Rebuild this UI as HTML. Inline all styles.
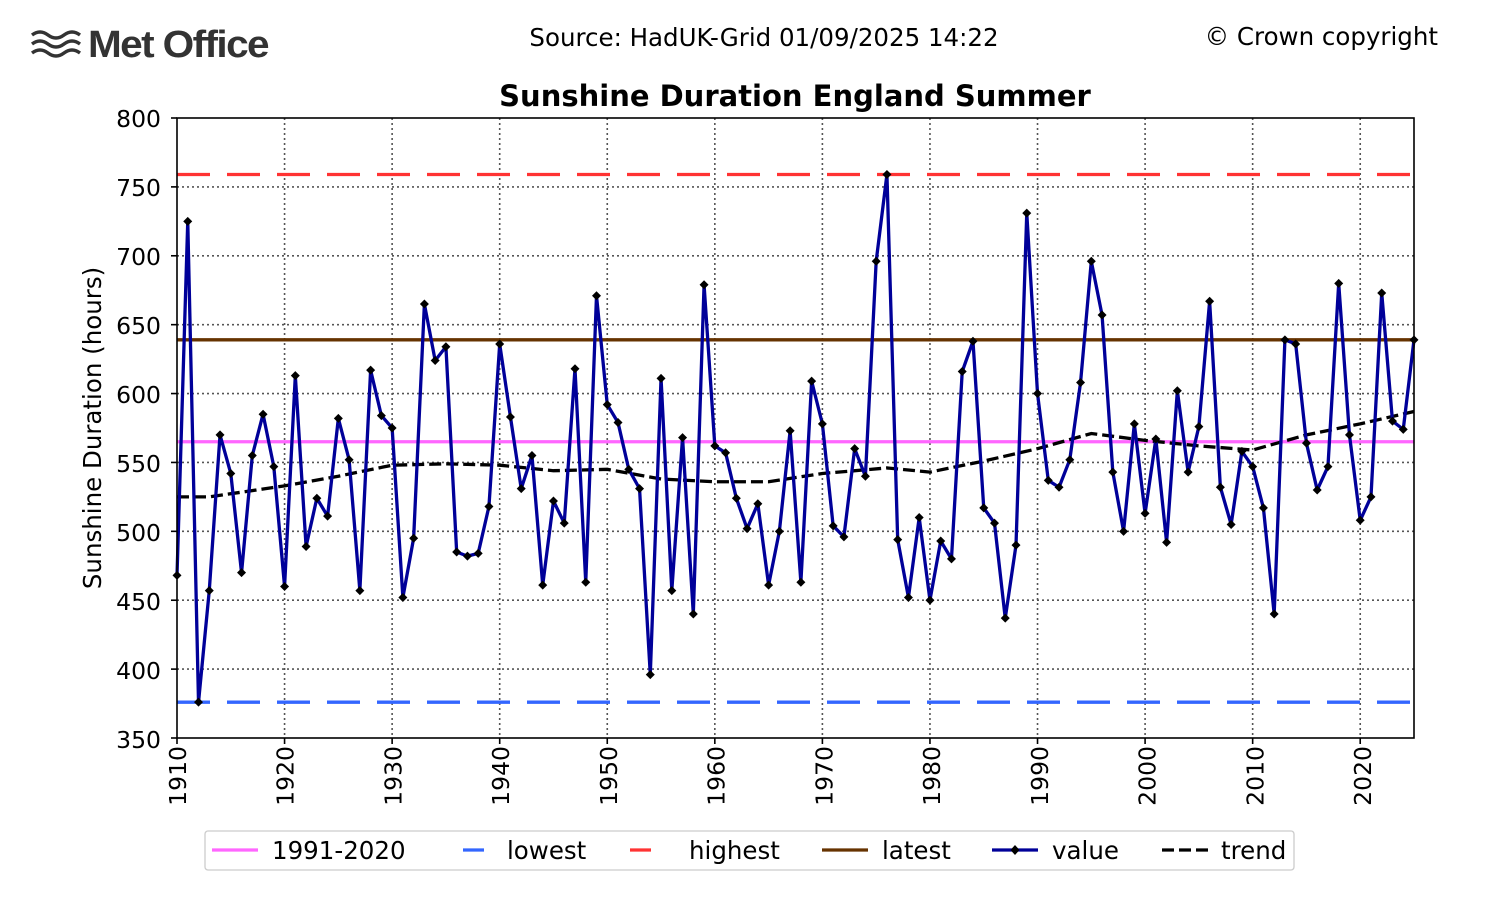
<!DOCTYPE html>
<html><head><meta charset="utf-8"><style>
html,body{margin:0;padding:0;background:#fff;}
svg{display:block;font-family:"DejaVu Sans","Liberation Sans",sans-serif;}
</style></head><body>
<svg id="s" width="1500" height="900" viewBox="0 0 1500 900" xmlns="http://www.w3.org/2000/svg">
<rect width="1500" height="900" fill="#fff"/>
<g stroke="#333" stroke-width="3.4" fill="none">
<path d="M32 35 q8 -6 16 0 t16 0 t16 0"/><path d="M32 44 q8 -6 16 0 t16 0 t16 0"/><path d="M32 53 q8 -6 16 0 t16 0 t16 0"/>
</g>
<text x="88" y="57" font-family="Liberation Sans,sans-serif" font-weight="bold" font-size="38" fill="#333" letter-spacing="-1.5" textLength="180" lengthAdjust="spacingAndGlyphs">Met Office</text>
<text x="764" y="46" font-size="24.5" text-anchor="middle">Source: HadUK-Grid 01/09/2025 14:22</text>
<text x="1438" y="45" font-size="24.5" text-anchor="end">© Crown copyright</text>
<text x="795" y="106" font-size="29" font-weight="bold" text-anchor="middle">Sunshine Duration England Summer</text>
<text transform="translate(101,428) rotate(-90)" font-size="24.5" text-anchor="middle">Sunshine Duration (hours)</text>
<g id="grid" stroke="#555" stroke-width="1.6" stroke-dasharray="2,3"></g>
<g id="ylab" font-size="23.5" text-anchor="end">
<text x="161" y="127">800</text><text x="161" y="196">750</text><text x="161" y="265">700</text><text x="161" y="334">650</text><text x="161" y="403">600</text><text x="161" y="472">550</text><text x="161" y="541">500</text><text x="161" y="610">450</text><text x="161" y="679">400</text><text x="161" y="748">350</text>
</g>
<g font-size="23.5" text-anchor="end">
<text transform="translate(186,746) rotate(-90)">1910</text>
<text transform="translate(293.7,746) rotate(-90)">1920</text>
<text transform="translate(401.5,746) rotate(-90)">1930</text>
<text transform="translate(509.2,746) rotate(-90)">1940</text>
<text transform="translate(617,746) rotate(-90)">1950</text>
<text transform="translate(724.7,746) rotate(-90)">1960</text>
<text transform="translate(832.4,746) rotate(-90)">1970</text>
<text transform="translate(940.2,746) rotate(-90)">1980</text>
<text transform="translate(1047.9,746) rotate(-90)">1990</text>
<text transform="translate(1155.7,746) rotate(-90)">2000</text>
<text transform="translate(1263.4,746) rotate(-90)">2010</text>
<text transform="translate(1371.1,746) rotate(-90)">2020</text>
</g>
<g id="data"></g>
<rect x="177" y="118" width="1237" height="620" fill="none" stroke="#000" stroke-width="1.6"/>
<rect x="205" y="831" width="1089" height="39" fill="#fff" stroke="#ccc" stroke-width="1.3" rx="3"/>
<g stroke-width="3.3">
<line x1="212" y1="850" x2="258" y2="850" stroke="#ff66ff"/>
<line x1="463" y1="850" x2="484" y2="850" stroke="#3366ff"/>
<line x1="630" y1="850" x2="651" y2="850" stroke="#ff3333"/>
<line x1="822" y1="850" x2="868" y2="850" stroke="#663300"/>
<line x1="992" y1="850" x2="1038" y2="850" stroke="#000099"/>
<line x1="1162" y1="850" x2="1208" y2="850" stroke="#000" stroke-dasharray="12,5"/>
</g>
<path d="M1015 845 l4.5 5 l-4.5 5 l-4.5 -5z" fill="#000"/>
<g font-size="24.5">
<text x="272" y="859">1991-2020</text><text x="507" y="859">lowest</text><text x="689" y="859">highest</text><text x="882" y="859">latest</text><text x="1052" y="859">value</text><text x="1221" y="859">trend</text>
</g>
</svg>
<script>
var X=function(y){return 177+(y-1910)*1237/115},Y=function(v){return 118+(800-v)*620/450};
var ns="http://www.w3.org/2000/svg";
function el(p,t,a){var e=document.createElementNS(ns,t);for(var k in a)e.setAttribute(k,a[k]);p.appendChild(e);return e;}
var g=document.getElementById('grid');
for(var y=1920;y<=2020;y+=10)el(g,'line',{x1:X(y),x2:X(y),y1:118,y2:738});
for(var v=400;v<=750;v+=50)el(g,'line',{x1:177,x2:1414,y1:Y(v),y2:Y(v)});
var s=document.getElementById('s');
for(var y=1910;y<=2020;y+=10)el(s,'line',{x1:X(y),x2:X(y),y1:738,y2:744,stroke:'#000','stroke-width':1.6});
for(var v=350;v<=800;v+=50)el(s,'line',{x1:171,x2:177,y1:Y(v),y2:Y(v),stroke:'#000','stroke-width':1.6});
var d=document.getElementById('data');
function h(v,c,da){var a={x1:177,x2:1414,y1:Y(v),y2:Y(v),stroke:c,'stroke-width':3.3};if(da)a['stroke-dasharray']='33,17';el(d,'line',a);}
h(565,'#ff66ff');h(376,'#3366ff',1);h(759,'#ff3333',1);h(639,'#663300');
var vals=[468,725,376,457,570,542,470,555,585,547,460,613,489,524,511,582,552,457,617,584,575,452,495,665,624,634,485,482,484,518,636,583,531,555,461,522,506,618,463,671,592,579,545,531,396,611,457,568,440,679,562,557,524,502,520,461,500,573,463,609,578,504,496,560,540,696,759,494,452,510,450,493,480,616,638,517,506,437,490,731,600,537,532,552,608,696,657,543,500,578,513,567,492,602,543,576,667,532,505,558,547,517,440,639,636,564,530,547,680,570,508,525,673,580,574,639];
var tr=[[1910,525],[1913,525],[1920,533],[1925,540],[1930,548],[1935,549],[1940,548],[1945,544],[1950,545],[1955,538],[1960,536],[1965,536],[1970,542],[1976,546],[1980,543],[1985,551],[1990,560],[1995,571],[2000,566],[2005,562],[2010,559],[2015,570],[2020,578],[2025,587]];
el(d,'polyline',{points:tr.map(function(p){return X(p[0])+','+Y(p[1])}).join(' '),fill:'none',stroke:'#000','stroke-width':3.3,'stroke-dasharray':'12,5'});
var pts=vals.map(function(v,i){return X(1910+i)+','+Y(v)}).join(' ');
el(d,'polyline',{points:pts,fill:'none',stroke:'#000099','stroke-width':3.3,'stroke-linejoin':'round'});
vals.forEach(function(v,i){var x=X(1910+i),y=Y(v);el(d,'path',{d:'M'+x+' '+(y-4.5)+'l4.5 4.5l-4.5 4.5l-4.5 -4.5z',fill:'#000'});});
</script>
</body></html>
